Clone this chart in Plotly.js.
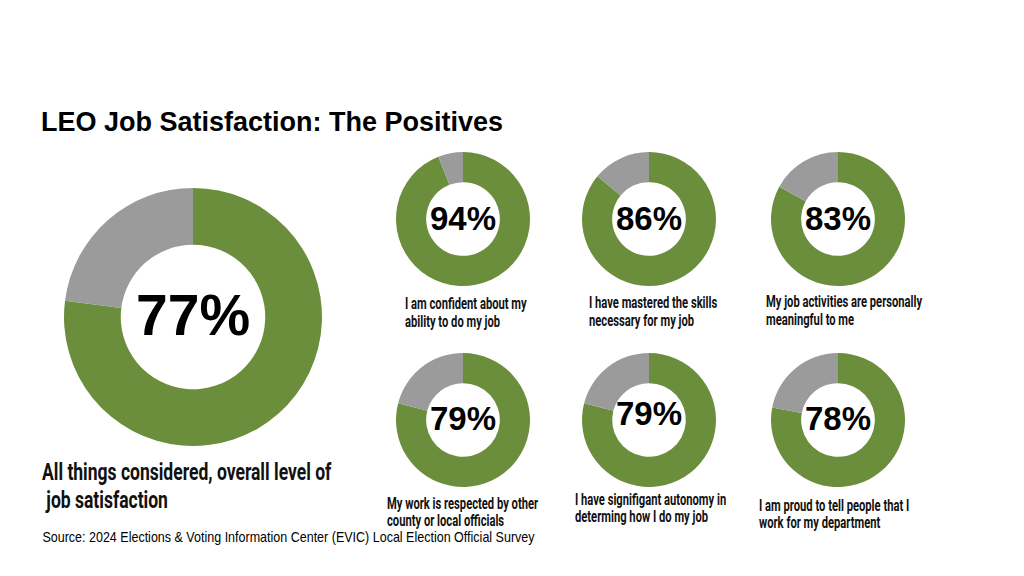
<!DOCTYPE html>
<html>
<head>
<meta charset="utf-8">
<script src="https://cdn.plot.ly/plotly-3.0.1.min.js"></script>
<style>
html,body{margin:0;padding:0;background:#fff;}
#chart{width:1024px;height:576px;}
/* condensed look for the statement labels (no condensed font installed) */
#chart .annotation text[style*="Noto"]{
  transform-box: fill-box; transform-origin: 0 0; transform: scaleX(0.7);
}
#chart .annotation text[style*="Lato"]{
  transform-box: fill-box; transform-origin: 0 0; transform: scaleX(0.73);
}
/* slightly narrow source line */
#chart .annotation text[style*="Helvetica"]{
  transform-box: fill-box; transform-origin: 0 0; transform: scaleX(0.895);
}
</style>
</head>
<body>
<div id="chart"></div>
<script>
// ---- data ----
const percents = [77, 94, 86, 83, 79, 79, 78];
const percentLabels = ["77%", "94%", "86%", "83%", "79%", "79%", "78%"];
const statementLines = [
  ["All things considered, overall level of", " job satisfaction"],
  ["I am confident about my", "ability to do my job"],
  ["I have mastered the skills", "necessary for my job"],
  ["My job activities are personally", "meaningful to me"],
  ["My work is respected by other", "county or local officials"],
  ["I have signifigant autonomy in", "determing how I do my job"],
  ["I am proud to tell people that I", "work for my department"]
];
const sliceNames = ["Agree", "Other"];
const titleText = "LEO Job Satisfaction: The Positives";
const sourceText = "Source: 2024 Elections &amp; Voting Information Center (EVIC) Local Election Official Survey";

// ---- layout (pixels) ----
const W = 1024, H = 576;
const GREEN = "#6b8e3c", GRAY = "#9b9b9b";
const smallLabelFont = "Roboto, 'Noto Sans', sans-serif";
const bigLabelFont = "Roboto, Lato, sans-serif";
const donuts = [
  {cx:193, cy:317, r:129, hole:0.56, fs:57, ty:315, lx:40, ly:[472, 500], lfs:24, lf:bigLabelFont},
  {cx:463, cy:219, r:67, hole:0.55, fs:33, ty:218, lx:403, ly:[303, 321], lfs:16, lf:smallLabelFont},
  {cx:649, cy:219, r:67, hole:0.55, fs:33, ty:219, lx:587, ly:[302, 320], lfs:16, lf:smallLabelFont},
  {cx:838, cy:219, r:67, hole:0.55, fs:33, ty:218, lx:764, ly:[301, 319], lfs:16, lf:smallLabelFont},
  {cx:463, cy:420, r:67, hole:0.55, fs:33, ty:418, lx:385, ly:[503, 520], lfs:16, lf:smallLabelFont},
  {cx:649, cy:420, r:67, hole:0.55, fs:33, ty:413, lx:573, ly:[499, 516], lfs:16, lf:smallLabelFont},
  {cx:838, cy:420, r:67, hole:0.55, fs:33, ty:418, lx:757, ly:[505, 522], lfs:16, lf:smallLabelFont}
];
const px = x => x / W;
const py = y => 1 - y / H;

const traces = [];
const annotations = [];

donuts.forEach((d, i) => {
  traces.push({
    type: "pie",
    values: [percents[i], 100 - percents[i]],
    labels: sliceNames,
    sort: false,
    direction: "clockwise",
    rotation: 0,
    hole: d.hole,
    textinfo: "none",
    hoverinfo: "label+value",
    marker: {colors: [GREEN, GRAY], line: {width: 0}},
    domain: {x: [px(d.cx - d.r), px(d.cx + d.r)], y: [py(d.cy + d.r), py(d.cy - d.r)]},
    showlegend: false
  });
  annotations.push({
    text: "<b>" + percentLabels[i] + "</b>",
    x: px(d.cx), y: py(d.ty), xref: "paper", yref: "paper",
    xanchor: "center", yanchor: "middle", showarrow: false,
    font: {family: "'Liberation Sans', Arial, sans-serif", size: d.fs, color: "#000"}
  });
  statementLines[i].forEach((line, k) => {
    annotations.push({
      text: line,
      x: px(d.lx), y: py(d.ly[k]), xref: "paper", yref: "paper",
      xanchor: "left", yanchor: "middle", align: "left", showarrow: false,
      font: {family: d.lf, size: d.lfs, color: "#111", weight: 700}
    });
  });
});

annotations.push({
  text: "<b>" + titleText + "</b>",
  x: px(39), y: py(122), xref: "paper", yref: "paper",
  xanchor: "left", yanchor: "middle", showarrow: false,
  font: {family: "'Liberation Sans', Arial, sans-serif", size: 27, color: "#000"}
});
annotations.push({
  text: sourceText,
  x: px(40), y: py(537), xref: "paper", yref: "paper",
  xanchor: "left", yanchor: "middle", showarrow: false,
  font: {family: "'Liberation Sans', Helvetica, sans-serif", size: 14, color: "#000"}
});

Plotly.newPlot("chart", traces, {
  width: W, height: H,
  margin: {l:0, r:0, t:0, b:0},
  paper_bgcolor: "#fff",
  plot_bgcolor: "#fff",
  showlegend: false,
  annotations: annotations
}, {displayModeBar: false, staticPlot: true});
</script>
</body>
</html>
